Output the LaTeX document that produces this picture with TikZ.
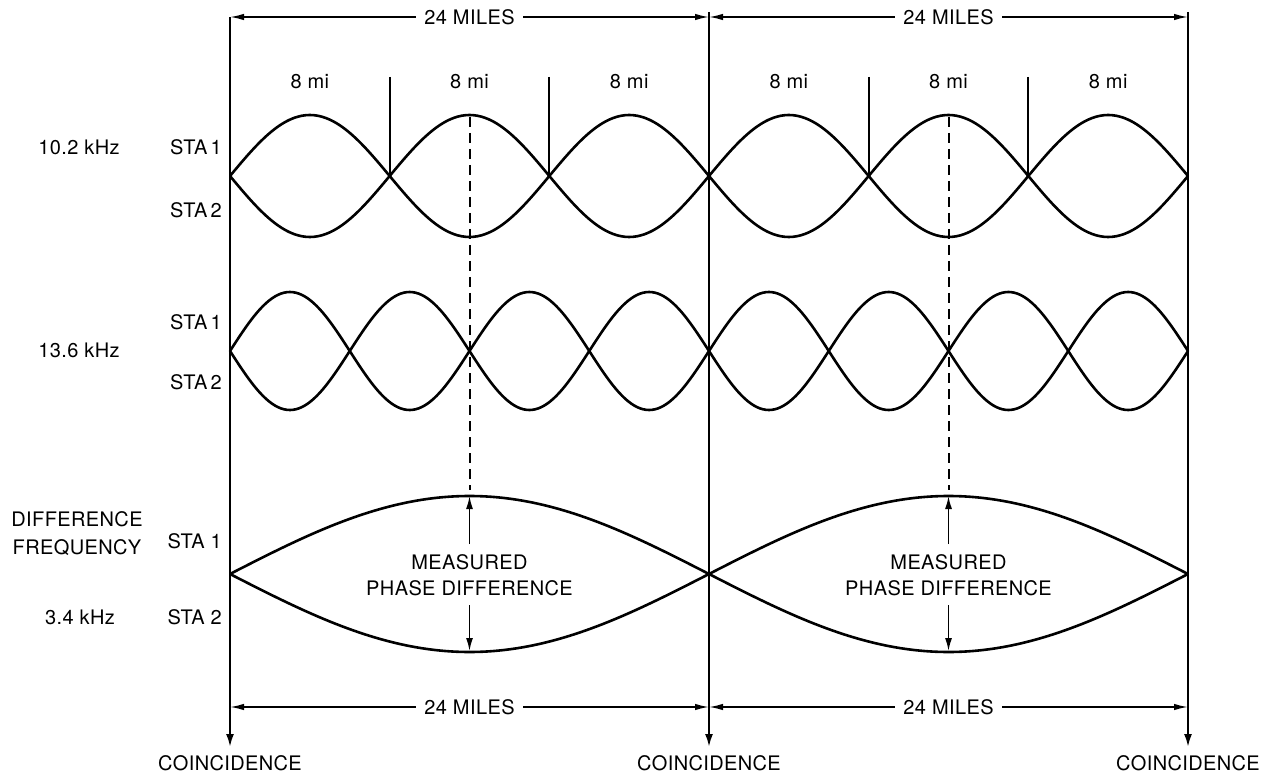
\documentclass[tikz,border=0pt]{standalone}
\usepackage{fontspec}
\setmainfont{TeX Gyre Heros}[LetterSpace=2]
\usetikzlibrary{arrows.meta}
\begin{document}
\begin{tikzpicture}[x=1pt,y=-1pt,
  lbl/.style={font=\fontsize{20}{22}\selectfont, inner sep=0pt},
  wave/.style={line width=2.6pt, line join=round},
  vline/.style={line width=2.2pt, -{Latex[length=13pt,width=8pt]}},
  dimline/.style={line width=1.6pt, {Latex[length=14pt,width=6.5pt]}-{Latex[length=14pt,width=6.5pt]}},
  tickline/.style={line width=2pt},
  dashv/.style={line width=2pt, dash pattern=on 10pt off 6pt},
  parrow/.style={line width=1.6pt, -{Latex[length=13pt,width=7pt]}},
  ]
\useasboundingbox (0,0) rectangle (1268,775);
% vertical coincidence lines
\foreach \n/\x/\t in {A/230/17,B/709/12,C/1188/12}{
  \coordinate (\n-top) at (\x,\t);
  \coordinate (\n-bot) at (\x,747);
  \coordinate (\n-d1) at (\x,17);
  \coordinate (\n-d2) at (\x,707);
  \draw[vline] (\n-top) -- (\n-bot);
  \node[lbl, anchor=north] (\n-coin) at (\x,755) {COINCIDENCE};
}
% dimension lines
\draw[dimline] (A-d1) -- node[lbl, fill=white, inner xsep=8pt, inner ysep=2pt] (dimt1) {24 MILES} (B-d1);
\draw[dimline] (B-d1) -- node[lbl, fill=white, inner xsep=8pt, inner ysep=2pt] (dimt2) {24 MILES} (C-d1);
\draw[dimline] (A-d2) -- node[lbl, fill=white, inner xsep=8pt, inner ysep=2pt] (dimb1) {24 MILES} (B-d2);
\draw[dimline] (B-d2) -- node[lbl, fill=white, inner xsep=8pt, inner ysep=2pt] (dimb2) {24 MILES} (C-d2);
% 8 mi ticks and labels
\foreach \i/\x in {1/389.7,2/549.3,3/868.7,4/1028.3}{
  \coordinate (tk-\i-a) at (\x,77);
  \coordinate (tk-\i-b) at (\x,176);
  \draw[tickline] (tk-\i-a) -- (tk-\i-b);
}
\foreach \i/\x in {1/309.8,2/469.5,3/629.2,4/788.8,5/948.5,6/1108.2}{
  \node[lbl] (mi-\i) at (\x,82) {8 mi};
}
% 10.2 kHz waves
\draw[wave] plot[domain=0:1080, samples=241, smooth] ({230+\x*0.887037},{176-61*sin(\x)});
\draw[wave] plot[domain=0:1080, samples=241, smooth] ({230+\x*0.887037},{176+61*sin(\x)});
% 13.6 kHz waves
\draw[wave] plot[domain=0:1440, samples=321, smooth] ({230+\x*0.665278},{351-59*sin(\x)});
\draw[wave] plot[domain=0:1440, samples=321, smooth] ({230+\x*0.665278},{351+59*sin(\x)});
% difference waves
\draw[wave] plot[domain=0:360, samples=121, smooth] ({230+\x*2.661111},{574-78*sin(\x)});
\draw[wave] plot[domain=0:360, samples=121, smooth] ({230+\x*2.661111},{574+78*sin(\x)});
% dashed lines and measured phase difference
\foreach \i/\x in {1/469.5,2/948.5}{
  \coordinate (ds-\i-a) at (\x,117);
  \coordinate (ds-\i-b) at (\x,490);
  \draw[dashv] (ds-\i-a) -- (ds-\i-b);
  \node[lbl] (meas-\i) at (\x,562) {MEASURED};
  \node[lbl] (phd-\i) at (\x,588) {PHASE DIFFERENCE};
  \coordinate (ps-\i-u) at (\x,544);
  \coordinate (ps-\i-d) at (\x,605);
  \coordinate (pu-\i) at (\x,496);
  \coordinate (pd-\i) at (\x,651);
  \draw[parrow] (ps-\i-u) -- (pu-\i);
  \draw[parrow] (ps-\i-d) -- (pd-\i);
}
% left labels
\node[lbl] (f1) at (79,147) {10.2 kHz};
\node[lbl, anchor=east] (s11) at (222,147) {STA\,1};
\node[lbl, anchor=east] (s12) at (222,210) {STA\,2};
\node[lbl] (f2) at (79,350) {13.6 kHz};
\node[lbl, anchor=east] (s21) at (222,322) {STA\,1};
\node[lbl, anchor=east] (s22) at (222,382) {STA\,2};
\node[lbl] (f3a) at (77,519) {DIFFERENCE};
\node[lbl] (f3b) at (77,548) {FREQUENCY};
\node[lbl] (f3c) at (80,617) {3.4 kHz};
\node[lbl, anchor=east] (s31) at (222,541) {STA 1};
\node[lbl, anchor=east] (s32) at (222,617) {STA 2};
\end{tikzpicture}
\end{document}
